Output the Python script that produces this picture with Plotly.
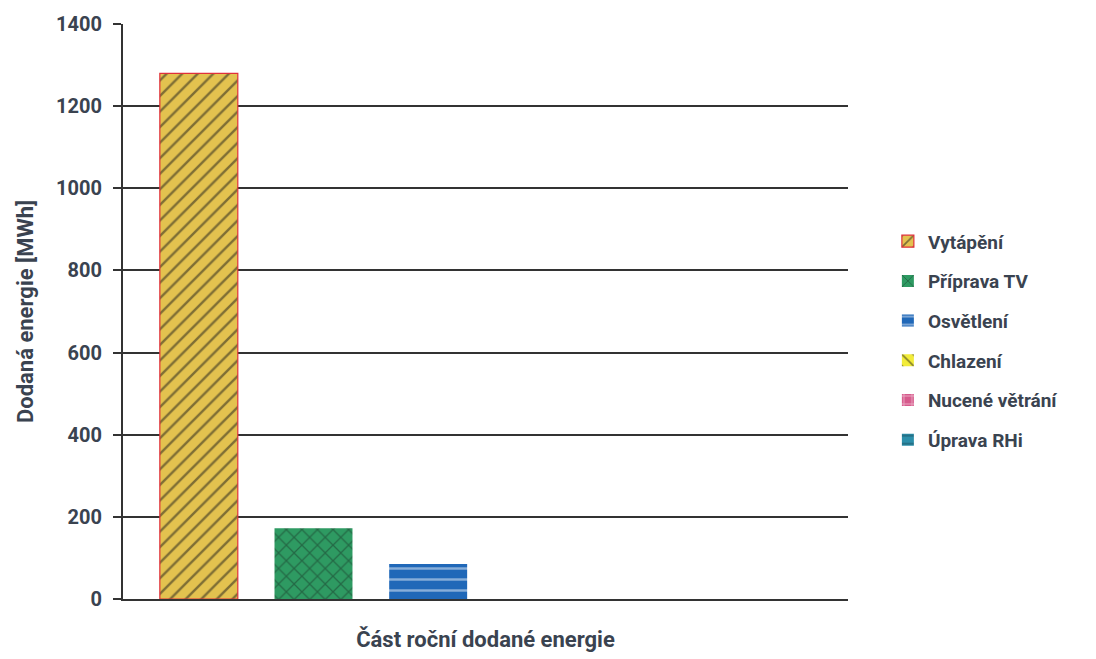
import plotly.graph_objects as go

# Annual delivered energy by end use [MWh]
series = ["Vytápění", "Příprava TV", "Osvětlení", "Chlazení", "Nucené větrání", "Úprava RHi"]
values = [1280, 172, 85, 0, 0, 0]
category = ["Část roční dodané energie"]
y_ticks = [0, 200, 400, 600, 800, 1000, 1200, 1400]

styles = {
    "Vytápění": dict(bg="#E3C24F", fg="#1A1A1A", shape="/", line="#E0303A", lw=1.2),
    "Příprava TV": dict(bg="#2E9A62", fg="#1A3A2A", shape="x", line="#2E9A62", lw=0),
    "Osvětlení": dict(bg="#2068B8", fg="#EEF4FB", shape="-", line="#2068B8", lw=0),
    "Chlazení": dict(bg="#F2EC3A", fg="#1A1A1A", shape="\\", line="#F2EC3A", lw=0),
    "Nucené větrání": dict(bg="#D65A8C", fg="#FFFFFF", shape="+", line="#D65A8C", lw=0),
    "Úprava RHi": dict(bg="#2C8FAA", fg="#1B4A5A", shape="-", line="#2C8FAA", lw=0),
}

fig = go.Figure()
for name, val in zip(series, values):
    s = styles[name]
    fig.add_trace(go.Bar(
        name=name,
        x=[""],
        y=[val],
        legendgroup=name,
        marker=dict(
            color=s["bg"],
            line=dict(color=s["line"], width=s["lw"]),
            pattern=dict(shape=s["shape"], fgcolor=s["fg"], bgcolor=s["bg"],
                         fillmode="overlay", size=11, solidity=0.22),
        ),
    ))

font_family = "Roboto, Liberation Sans, Arial, sans-serif"
text_color = "#3A4350"

fig.update_layout(
    width=1096,
    height=659,
    margin=dict(l=123, r=248, t=22, b=60),
    paper_bgcolor="white",
    plot_bgcolor="white",
    barmode="group",
    bargap=0.051,
    bargroupgap=0.32,
    font=dict(family=font_family, color=text_color),
    showlegend=True,
    legend=dict(
        x=1.055, y=0.449, xanchor="left", yanchor="middle",
        font=dict(size=19, color=text_color, family=font_family, weight="bold"),
        tracegroupgap=12,
        traceorder="grouped",
        itemwidth=30,
    ),
    xaxis=dict(
        showticklabels=False,
        showline=True, linecolor="#333333", linewidth=2,
        showgrid=False, zeroline=False,
        title=dict(text=category[0], standoff=32,
                   font=dict(size=22, color=text_color, family=font_family, weight="bold")),
    ),
    yaxis=dict(
        range=[0, 1400],
        tickvals=y_ticks,
        ticktext=[str(v) for v in y_ticks],
        ticks="outside", ticklen=8, tickwidth=2, tickcolor="#333333",
        ticklabelstandoff=7,
        showline=True, linecolor="#333333", linewidth=2,
        showgrid=True, gridcolor="#333333", gridwidth=1.6,
        zeroline=False,
        tickfont=dict(size=20, color=text_color, family=font_family, weight="bold"),
        title=dict(text="Dodaná energie [MWh]", standoff=16,
                   font=dict(size=22, color=text_color, family=font_family, weight="bold")),
    ),
)

fig.write_html("out.html")
